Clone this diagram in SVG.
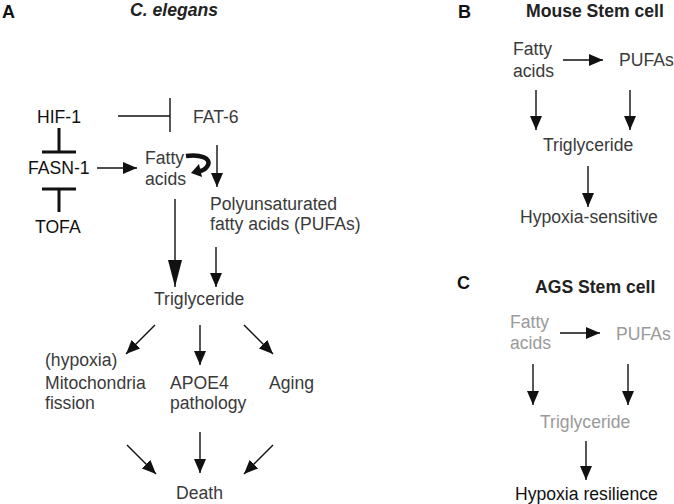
<svg xmlns="http://www.w3.org/2000/svg" width="674" height="504" viewBox="0 0 674 504">
<style>
text{font-family:"Liberation Sans",Arial,sans-serif;font-size:17.6px;fill:#3a3a3a}
.blk{fill:#111}
.lbl{font-weight:bold;fill:#111;font-size:18px}
.ttl{font-weight:bold;fill:#222}
.gry{fill:#9a9a9a}
.ln{stroke:#111;stroke-width:1.4;fill:none}
.thk{stroke:#111;stroke-width:3;fill:none}
</style>
<defs>
<marker id="ah" viewBox="0 0 14 12" refX="14" refY="6" markerWidth="14" markerHeight="12" markerUnits="userSpaceOnUse" orient="auto">
<path d="M0,0 L14,6 L0,12 z" fill="#111"/>
</marker>
<marker id="big" viewBox="0 0 27 14" refX="27" refY="7" markerWidth="27" markerHeight="14" markerUnits="userSpaceOnUse" orient="auto">
<path d="M0,0 L27,7 L0,14 z" fill="#111"/>
</marker>
</defs>
<rect width="674" height="504" fill="#fff"/>

<g id="panelA-titles">
<text class="lbl" x="2" y="18">A</text>
<text class="ttl" x="130" y="16" font-style="italic">C. elegans</text>
</g>
<g id="hif1"><text class="blk" x="37" y="123">HIF-1</text></g>
<g id="fat6"><text x="193" y="123">FAT-6</text></g>
<g id="fasn1"><text class="blk" x="28" y="174">FASN-1</text></g>
<g id="tofa"><text class="blk" x="35" y="233">TOFA</text></g>
<g id="fattyA"><text x="145" y="164">Fatty</text><text x="145" y="185">acids</text></g>
<g id="pufaA"><text x="210" y="210">Polyunsaturated</text><text x="210" y="230">fatty acids (PUFAs)</text></g>
<g id="trigA"><text x="154" y="305">Triglyceride</text></g>
<g id="mito"><text x="45" y="366">(hypoxia)</text><text x="45" y="389">Mitochondria</text><text x="45" y="409">fission</text></g>
<g id="apoe4"><text x="170" y="389">APOE4</text><text x="170" y="409">pathology</text></g>
<g id="aging"><text x="269" y="389">Aging</text></g>
<g id="death"><text x="176" y="499">Death</text></g>

<g id="panelB-titles">
<text class="lbl" x="458" y="18">B</text>
<text class="ttl" x="526" y="17">Mouse Stem cell</text>
</g>
<g id="fattyB"><text x="513" y="55">Fatty</text><text x="513" y="77">acids</text></g>
<g id="pufaB"><text x="619" y="66">PUFAs</text></g>
<g id="trigB"><text x="543" y="151">Triglyceride</text></g>
<g id="hypsens"><text x="520" y="223">Hypoxia-sensitive</text></g>

<g id="panelC-titles">
<text class="lbl" x="457" y="289">C</text>
<text class="ttl" x="535" y="293">AGS Stem cell</text>
</g>
<g id="fattyC"><text class="gry" x="510" y="328">Fatty</text><text class="gry" x="510" y="349">acids</text></g>
<g id="pufaC"><text class="gry" x="616" y="340">PUFAs</text></g>
<g id="trigC"><text class="gry" x="540" y="428">Triglyceride</text></g>
<g id="hypres"><text class="blk" x="515" y="500">Hypoxia resilience</text></g>

<g id="connectors">
<!-- A -->
<path class="ln" d="M118,116 H170 M170,98 V132"/>
<path class="thk" d="M59,128 V152 M42,152 H76"/>
<path class="thk" d="M42,189 H76 M59,189 V212"/>
<line class="ln" x1="97" y1="168" x2="137" y2="168" marker-end="url(#ah)"/>
<line class="ln" x1="217" y1="145" x2="217" y2="187" marker-end="url(#ah)"/>
<path d="M186,156 C200,154 211,158 208,165 C206,169 202,171 199,171" stroke="#111" stroke-width="4.5" fill="none"/>
<path d="M191,173 L199,164 L202,177 z" fill="#111"/>
<line class="ln" x1="175" y1="199" x2="175" y2="287" marker-end="url(#big)"/>
<line class="ln" x1="216" y1="247" x2="216" y2="287" marker-end="url(#ah)"/>
<line class="ln" x1="155" y1="325" x2="126" y2="354" marker-end="url(#ah)"/>
<line class="ln" x1="200" y1="325" x2="200" y2="365" marker-end="url(#ah)"/>
<line class="ln" x1="244" y1="325" x2="273" y2="354" marker-end="url(#ah)"/>
<line class="ln" x1="127" y1="445" x2="156" y2="474" marker-end="url(#ah)"/>
<line class="ln" x1="200" y1="432" x2="200" y2="473" marker-end="url(#ah)"/>
<line class="ln" x1="273" y1="445" x2="244" y2="474" marker-end="url(#ah)"/>
<!-- B -->
<line class="ln" x1="563" y1="60" x2="603" y2="60" marker-end="url(#ah)"/>
<line class="ln" x1="536" y1="90" x2="536" y2="130" marker-end="url(#ah)"/>
<line class="ln" x1="630" y1="90" x2="630" y2="130" marker-end="url(#ah)"/>
<line class="ln" x1="588" y1="166" x2="588" y2="207" marker-end="url(#ah)"/>
<!-- C -->
<line class="ln" x1="560" y1="333" x2="600" y2="333" marker-end="url(#ah)"/>
<line class="ln" x1="533" y1="364" x2="533" y2="405" marker-end="url(#ah)"/>
<line class="ln" x1="628" y1="364" x2="628" y2="405" marker-end="url(#ah)"/>
<line class="ln" x1="586" y1="441" x2="586" y2="480" marker-end="url(#ah)"/>
</g>
</svg>
